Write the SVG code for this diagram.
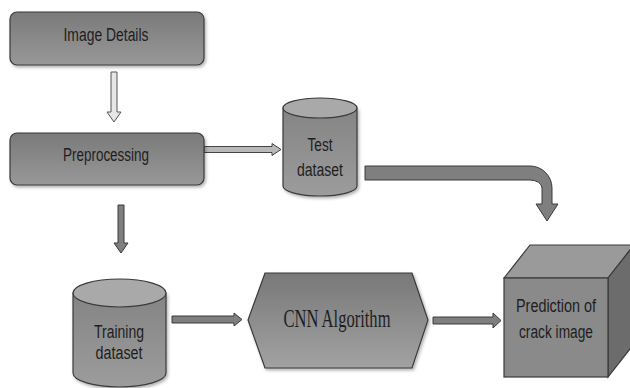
<svg xmlns="http://www.w3.org/2000/svg" width="630" height="388" viewBox="0 0 630 388">
<defs>
<linearGradient id="gBox" x1="0" y1="0" x2="0" y2="1"><stop offset="0" stop-color="#7a7a7a"/><stop offset="1" stop-color="#989898"/></linearGradient>
<linearGradient id="gHex" x1="0" y1="0" x2="0" y2="1"><stop offset="0" stop-color="#787878"/><stop offset="1" stop-color="#a2a2a2"/></linearGradient>
<linearGradient id="gCyl" x1="0" y1="0" x2="0" y2="1"><stop offset="0" stop-color="#848484"/><stop offset="1" stop-color="#9c9c9c"/></linearGradient>
<filter id="sh" x="-10%" y="-10%" width="130%" height="130%"><feDropShadow dx="1.5" dy="2" stdDeviation="1.5" flood-color="#000" flood-opacity="0.3"/></filter>
</defs>
<style>
.box{fill:url(#gBox);stroke:#3a3a3a;stroke-width:1.2}
.cyl{fill:url(#gCyl);stroke:#3a3a3a;stroke-width:1.2}
.cyltop{fill:#a9a9a9;stroke:#3a3a3a;stroke-width:1.2}
.lbl{font-family:"Liberation Sans",Arial,sans-serif;font-size:18px;fill:#1e1e1e;text-anchor:middle}
.ser{font-family:"Liberation Serif","Times New Roman",serif;font-size:26px;fill:#1e1e1e;text-anchor:middle}
.ad{fill:#7f7f7f;stroke:#3a3a3a;stroke-width:1}
.al{fill:#e6e6e6;stroke:#555;stroke-width:1}
.am{fill:#b8b8b8;stroke:#444;stroke-width:1}
</style>
<rect width="630" height="388" fill="#fff"/>
<g id="connectors">
<path class="al" d="M111,72 H117 V112 H121 L114,122 L107,112 H111 Z"/>
<path class="am" d="M204,146.5 H272 V143.5 L281,149.5 L272,155.5 V152.5 H204 Z"/>
<path class="ad" d="M365,166 H530 A22,22 0 0 1 552,188 V204 H558 L547,221 L536,204 H542 V188 A12,8 0 0 0 530,180 H365 Z"/>
<path class="ad" d="M118,205 H124 V243 H128 L121,253 L114,243 H118 Z"/>
<path class="ad" d="M172,316 H234 V313 L242,319.5 L234,326 V323 H172 Z"/>
<path class="ad" d="M433,317 H493 V313 L501,320.5 L493,328 V324 H433 Z"/>
</g>
<g id="image-details">
<rect class="box" x="10" y="12" width="194" height="53" rx="7" filter="url(#sh)"/>
<text class="lbl" x="106" y="41" textLength="85" lengthAdjust="spacingAndGlyphs">Image Details</text>
</g>
<g id="preprocessing">
<rect class="box" x="10" y="133" width="194" height="52" rx="7" filter="url(#sh)"/>
<text class="lbl" x="106" y="161" textLength="86" lengthAdjust="spacingAndGlyphs">Preprocessing</text>
</g>
<g id="test-dataset">
<path class="cyl" d="M283,108 V186 A37,10 0 0 0 357,186 V108 Z" filter="url(#sh)"/>
<ellipse class="cyltop" cx="320" cy="108" rx="37" ry="10"/>
<text class="lbl" x="320" y="151" textLength="25" lengthAdjust="spacingAndGlyphs">Test</text>
<text class="lbl" x="320" y="176" textLength="46" lengthAdjust="spacingAndGlyphs">dataset</text>
</g>
<g id="training-dataset">
<path class="cyl" d="M73,293 V373 A46.5,14 0 0 0 166,373 V293 Z" filter="url(#sh)"/>
<ellipse class="cyltop" cx="119.5" cy="293" rx="46.5" ry="14"/>
<text class="lbl" x="119" y="338" textLength="50" lengthAdjust="spacingAndGlyphs">Training</text>
<text class="lbl" x="119" y="359" textLength="47" lengthAdjust="spacingAndGlyphs">dataset</text>
</g>
<g id="cnn-algorithm">
<polygon points="265,273 412,273 428,320 412,368 265,368 248,320" fill="url(#gHex)" stroke="#3a3a3a" stroke-width="1.2" filter="url(#sh)"/>
<text class="ser" x="337" y="327" textLength="107" lengthAdjust="spacingAndGlyphs">CNN Algorithm</text>
</g>
<g id="prediction">
<polygon points="504,278 530,245 634,245 608,278" fill="#9a9a9a" stroke="#3a3a3a" stroke-width="1.2"/>
<polygon points="608,278 634,245 634,344 608,377" fill="#6c6c6c" stroke="#3a3a3a" stroke-width="1.2"/>
<rect x="504" y="278" width="104" height="99" fill="#8a8a8a" stroke="#3a3a3a" stroke-width="1.2"/>
<text class="lbl" x="556" y="312" textLength="80" lengthAdjust="spacingAndGlyphs">Prediction of</text>
<text class="lbl" x="556" y="338" textLength="74" lengthAdjust="spacingAndGlyphs">crack image</text>
</g>
</svg>
